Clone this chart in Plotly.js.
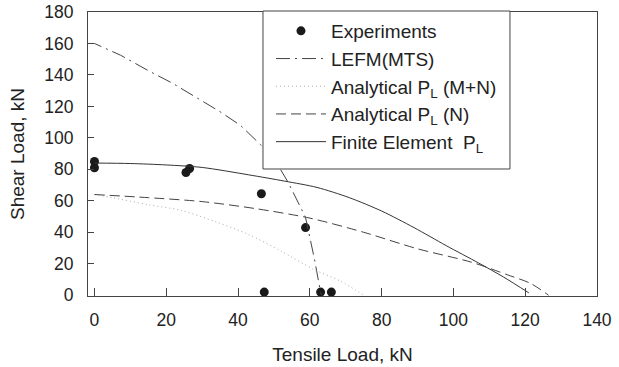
<!DOCTYPE html>
<html><head><meta charset="utf-8">
<script src="https://cdn.plot.ly/plotly-3.0.1.min.js"></script>
<style>html,body{margin:0;padding:0;background:#fff}#chart{width:619px;height:367px}</style>
</head><body><div id="chart"></div>
<script>
// Experiments
const expX = [0, 0, 25.5, 26.5, 46.5, 58.8, 47.3, 63, 66];
const expY = [85, 81, 78, 80.5, 64.5, 43, 2, 2, 2];
// LEFM(MTS)
const lefmX = [-1.8, 0, 7.3, 15.1, 21.6, 28, 35.3, 40.8, 46.3, 51, 53.9, 58.8, 61.3, 63, 63.3];
const lefmY = [160, 160, 152.5, 142.6, 134.9, 126.1, 116.2, 107.7, 95.6, 83.1, 72, 49.5, 22.8, 1.8, 0];
// Analytical PL (M+N)
const mnX = [0, 5, 15, 24, 34, 43, 52, 61, 68.5, 75];
const mnY = [64, 62, 57.5, 54, 46.5, 38.5, 28, 16.5, 9, 0];
// Analytical PL (N)
const nX = [0, 15, 30, 45, 60, 75, 90, 105, 115, 121.5, 126.5];
const nY = [64, 62, 59.5, 55, 49, 40, 29.5, 21, 13, 7.5, 0];
// Finite Element PL
const feX = [0, 10, 20, 30, 43, 53, 62, 71, 80, 89, 98, 107, 114, 121];
const feY = [84, 83.7, 82.8, 81.2, 76.5, 72.5, 68.5, 62, 53.5, 43, 31.5, 20.5, 11.5, 1.5];
// Ticks
const xTicks = [0, 20, 40, 60, 80, 100, 120, 140];
const yTicks = [0, 20, 40, 60, 80, 100, 120, 140, 160, 180];

const traces = [
  {x: expX, y: expY, type: 'scatter', mode: 'markers', name: 'Experiments',
   marker: {color: '#1a1a1a', size: 9}},
  {x: lefmX, y: lefmY, type: 'scatter', mode: 'lines', name: 'LEFM(MTS)',
   line: {color: '#444', width: 1, dash: '14px,5px,2px,5px'}},
  {x: mnX, y: mnY, type: 'scatter', mode: 'lines', name: 'Analytical P<sub>L</sub> (M+N)',
   line: {color: '#aaa', width: 1, dash: '1px,3px', shape: 'spline', smoothing: 0.8}},
  {x: nX, y: nY, type: 'scatter', mode: 'lines', name: 'Analytical P<sub>L</sub> (N)',
   line: {color: '#444', width: 1, dash: '10px,5px', shape: 'spline', smoothing: 0.8}},
  {x: feX, y: feY, type: 'scatter', mode: 'lines', name: 'Finite Element  P<sub>L</sub>',
   line: {color: '#333', width: 1, shape: 'spline', smoothing: 0.8}}
];

const axisCommon = {
  showline: true, linecolor: '#444', linewidth: 1, mirror: true,
  showgrid: false, zeroline: false, ticks: 'inside', tickcolor: '#444',
  tickfont: {size: 17.5, color: '#222'}
};

const layout = {
  width: 619, height: 367,
  margin: {l: 88, r: 22, t: 12, b: 71},
  paper_bgcolor: '#fff', plot_bgcolor: '#fff',
  font: {family: 'Liberation Sans, Arial, sans-serif', color: '#222', size: 17},
  showlegend: true,
  legend: {x: 0.3595, y: 1.0, xanchor: 'left', yanchor: 'top', bgcolor: 'rgba(0,0,0,0)',
           borderwidth: 0, font: {size: 19, color: '#222'}, itemwidth: 50,
           traceorder: 'normal'},
  xaxis: Object.assign({}, axisCommon, {
    range: [-1.8, 140], tickvals: xTicks, ticklen: 8, ticklabelstandoff: 8,
    title: {text: 'Tensile Load, kN', font: {size: 19, color: '#222'}, standoff: 18}
  }),
  yaxis: Object.assign({}, axisCommon, {
    range: [-0.5, 180], tickvals: yTicks, ticklen: 6, ticklabelstandoff: 10,
    title: {text: 'Shear Load, kN', font: {size: 19, color: '#222'}, standoff: 14}
  }),
  shapes: [{type: 'rect', xref: 'paper', yref: 'paper', x0: 0.3438, x1: 0.829, y0: 0.4472, y1: 1.0035,
            line: {color: '#444', width: 1}, fillcolor: '#fff', layer: 'above'}]
};

Plotly.newPlot('chart', traces, layout, {displayModeBar: false, staticPlot: true});
</script>
</body></html>
